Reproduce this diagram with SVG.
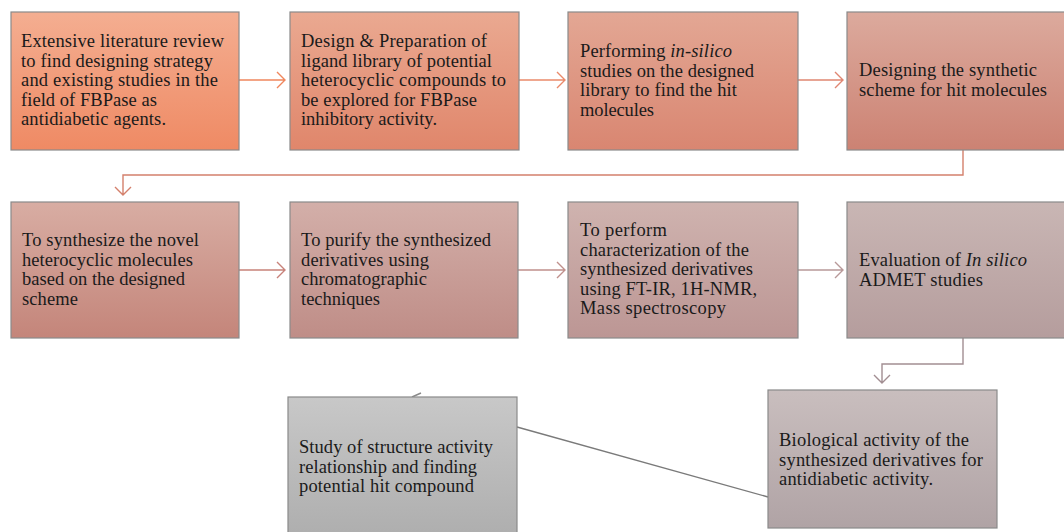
<svg xmlns="http://www.w3.org/2000/svg" width="1064" height="532" viewBox="0 0 1064 532">
<defs>
<linearGradient id="g1" x1="0" y1="0" x2="0" y2="1"><stop offset="0" stop-color="#f4ae91"/><stop offset="1" stop-color="#ef8a64"/></linearGradient>
<linearGradient id="g2" x1="0" y1="0" x2="0" y2="1"><stop offset="0" stop-color="#eaa991"/><stop offset="1" stop-color="#e0866b"/></linearGradient>
<linearGradient id="g3" x1="0" y1="0" x2="0" y2="1"><stop offset="0" stop-color="#e3a794"/><stop offset="1" stop-color="#d98671"/></linearGradient>
<linearGradient id="g4" x1="0" y1="0" x2="0" y2="1"><stop offset="0" stop-color="#dcaa9d"/><stop offset="1" stop-color="#cc8273"/></linearGradient>
<linearGradient id="g5" x1="0" y1="0" x2="0" y2="1"><stop offset="0" stop-color="#d8ada3"/><stop offset="1" stop-color="#c4857a"/></linearGradient>
<linearGradient id="g6" x1="0" y1="0" x2="0" y2="1"><stop offset="0" stop-color="#d3afa9"/><stop offset="1" stop-color="#bf8d87"/></linearGradient>
<linearGradient id="g7" x1="0" y1="0" x2="0" y2="1"><stop offset="0" stop-color="#cfb3af"/><stop offset="1" stop-color="#bc9694"/></linearGradient>
<linearGradient id="g8" x1="0" y1="0" x2="0" y2="1"><stop offset="0" stop-color="#c9b6b4"/><stop offset="1" stop-color="#b59d9d"/></linearGradient>
<linearGradient id="g9" x1="0" y1="0" x2="0" y2="1"><stop offset="0" stop-color="#c9bebe"/><stop offset="1" stop-color="#b0a3a5"/></linearGradient>
<linearGradient id="g10" x1="0" y1="0" x2="0" y2="1"><stop offset="0" stop-color="#c8c8c8"/><stop offset="1" stop-color="#adadad"/></linearGradient>
</defs>
<style>
rect.box{stroke:#8a8a8a;stroke-width:1.2}
text{font-family:"Liberation Serif","Times New Roman",serif;font-size:18.5px;fill:#1a1a1a}
.c{fill:none;stroke-width:1.4}
.it{font-style:italic}
</style>
<g id="connectors">
<path class="c" stroke="#f0875d" d="M239,80 H285 M277,72 L285,80 L277,88"/>
<path class="c" stroke="#ea8a6b" d="M519,80 H565 M557,72 L565,80 L557,88"/>
<path class="c" stroke="#e08672" d="M798,80 H843 M835,72 L843,80 L835,88"/>
<path class="c" stroke="#d4806c" d="M963,150 V175 H123 V195 M115,187 L123,195 L131,187"/>
<path class="c" stroke="#c8827a" d="M239,270 H285 M277,262 L285,270 L277,278"/>
<path class="c" stroke="#c0908c" d="M518,270 H565 M557,262 L565,270 L557,278"/>
<path class="c" stroke="#b89999" d="M798,270 H843 M835,262 L843,270 L835,278"/>
<path class="c" stroke="#a28e92" d="M963,338 V364 H882 V383 M874,375 L882,383 L890,375"/>
<path class="c" stroke="#7a7a7a" d="M517,427 L768,497"/>
<path class="c" stroke="#8a8a8a" d="M412,397 L421,393"/>
</g>
<g id="n1"><rect class="box" x="11" y="12" width="228" height="138" fill="url(#g1)"/>
<text x="21" y="47" textLength="203" lengthAdjust="spacing">Extensive literature review</text>
<text x="21" y="66.5" textLength="192" lengthAdjust="spacing">to find designing strategy</text>
<text x="21" y="86" textLength="197" lengthAdjust="spacing">and existing studies in the</text>
<text x="21" y="105.5" textLength="136" lengthAdjust="spacing">field of FBPase as</text>
<text x="21" y="125" textLength="145" lengthAdjust="spacing">antidiabetic agents.</text></g>
<g id="n2"><rect class="box" x="290" y="12" width="229" height="138" fill="url(#g2)"/>
<text x="301" y="47" textLength="186" lengthAdjust="spacing">Design &amp; Preparation of</text>
<text x="301" y="66.5" textLength="191" lengthAdjust="spacing">ligand library of potential</text>
<text x="301" y="86" textLength="205" lengthAdjust="spacing">heterocyclic compounds to</text>
<text x="301" y="105.5" textLength="176" lengthAdjust="spacing">be explored for FBPase</text>
<text x="301" y="125" textLength="136" lengthAdjust="spacing">inhibitory activity.</text></g>
<g id="n3"><rect class="box" x="568" y="12" width="230" height="138" fill="url(#g3)"/>
<text x="580" y="57" textLength="152" lengthAdjust="spacing">Performing <tspan class="it">in-silico</tspan></text>
<text x="580" y="76.5" textLength="174" lengthAdjust="spacing">studies on the designed</text>
<text x="580" y="96" textLength="157" lengthAdjust="spacing">library to find the hit</text>
<text x="580" y="115.5" textLength="74" lengthAdjust="spacing">molecules</text></g>
<g id="n4"><rect class="box" x="847" y="12" width="230" height="138" fill="url(#g4)"/>
<text x="859" y="76" textLength="178" lengthAdjust="spacing">Designing the synthetic</text>
<text x="859" y="95.5" textLength="188" lengthAdjust="spacing">scheme for hit molecules</text></g>
<g id="n5"><rect class="box" x="11" y="202" width="228" height="136" fill="url(#g5)"/>
<text x="22" y="246" textLength="177" lengthAdjust="spacing">To synthesize the novel</text>
<text x="22" y="265.5" textLength="171" lengthAdjust="spacing">heterocyclic molecules</text>
<text x="22" y="285" textLength="163" lengthAdjust="spacing">based on the designed</text>
<text x="22" y="304.5" textLength="56" lengthAdjust="spacing">scheme</text></g>
<g id="n6"><rect class="box" x="290" y="202" width="228" height="136" fill="url(#g6)"/>
<text x="301" y="246" textLength="190" lengthAdjust="spacing">To purify the synthesized</text>
<text x="301" y="265.5" textLength="128" lengthAdjust="spacing">derivatives using</text>
<text x="301" y="285" textLength="126" lengthAdjust="spacing">chromatographic</text>
<text x="301" y="304.5" textLength="79" lengthAdjust="spacing">techniques</text></g>
<g id="n7"><rect class="box" x="568" y="202" width="230" height="136" fill="url(#g7)"/>
<text x="580" y="236" textLength="87" lengthAdjust="spacing">To perform</text>
<text x="580" y="255.5" textLength="169" lengthAdjust="spacing">characterization of the</text>
<text x="580" y="275" textLength="173" lengthAdjust="spacing">synthesized derivatives</text>
<text x="580" y="294.5" textLength="177" lengthAdjust="spacing">using FT-IR, 1H-NMR,</text>
<text x="580" y="314" textLength="146" lengthAdjust="spacing">Mass spectroscopy</text></g>
<g id="n8"><rect class="box" x="847" y="202" width="230" height="136" fill="url(#g8)"/>
<text x="859" y="266" textLength="168" lengthAdjust="spacing">Evaluation of <tspan class="it">In silico</tspan></text>
<text x="859" y="285.5" textLength="124" lengthAdjust="spacing">ADMET studies</text></g>
<g id="n9"><rect class="box" x="768" y="390" width="229" height="138" fill="url(#g9)"/>
<text x="779" y="446" textLength="190" lengthAdjust="spacing">Biological activity of the</text>
<text x="779" y="465.5" textLength="204" lengthAdjust="spacing">synthesized derivatives for</text>
<text x="779" y="485" textLength="154" lengthAdjust="spacing">antidiabetic activity.</text></g>
<g id="n10"><rect class="box" x="288" y="397" width="229" height="145" fill="url(#g10)"/>
<text x="299" y="453" textLength="194" lengthAdjust="spacing">Study of structure activity</text>
<text x="299" y="472.5" textLength="178" lengthAdjust="spacing">relationship and finding</text>
<text x="299" y="492" textLength="175" lengthAdjust="spacing">potential hit compound</text></g>
</svg>
